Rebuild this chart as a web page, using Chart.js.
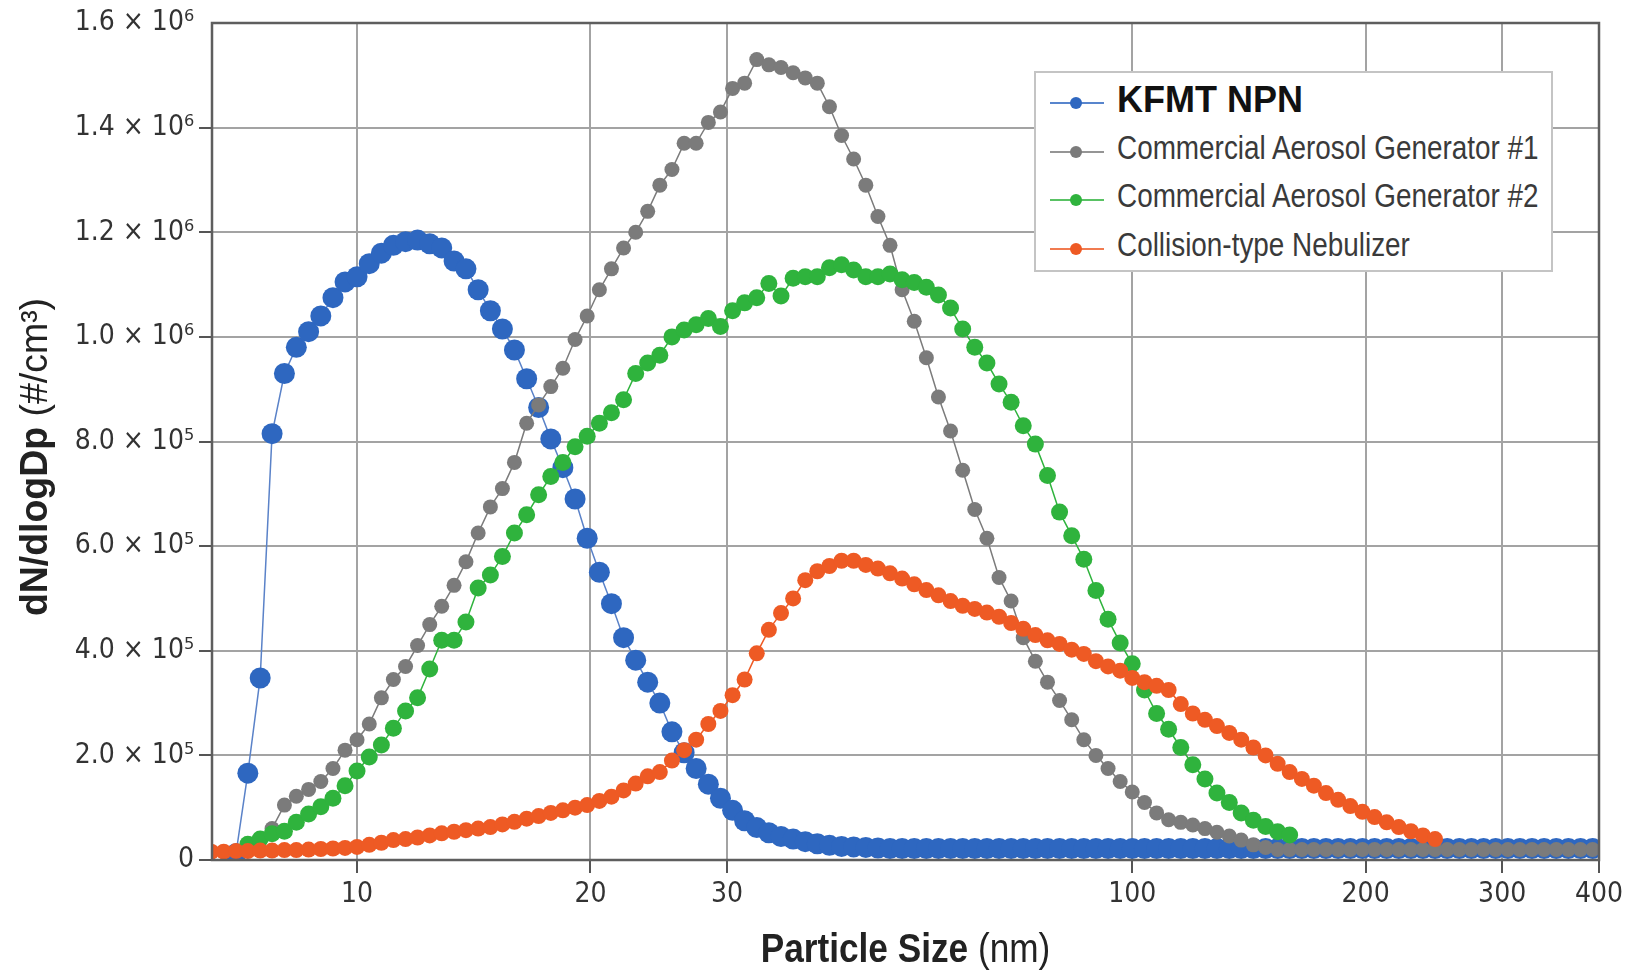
<!DOCTYPE html>
<html>
<head>
<meta charset="utf-8">
<script src="https://cdn.jsdelivr.net/npm/chart.js@4.4.1/dist/chart.umd.min.js"></script>
<style>
  body { margin: 0; background: #fff; }
  #wrap { position: relative; width: 1638px; height: 973px; }
  #legend {
    position: absolute; left: 1034px; top: 71px; width: 515px; height: 197px;
    border: 2px solid #c4c4c4; background: #fff;
  }
  .row { position: absolute; left: 0; height: 48px; width: 100%; }
  .mark-line { position: absolute; left: 14px; width: 54px; top: 23px; height: 2px; }
  .mark-dot { position: absolute; left: 34px; top: 18px; width: 12px; height: 12px; border-radius: 6px; }
  .lbl { position: absolute; left: 81px; top: 0; line-height: 48px; white-space: nowrap; transform-origin: left center; }
</style>
</head>
<body>
<div id="wrap">
  <canvas id="chart" width="1638" height="973"></canvas>
  <div id="legend"></div>
</div>
<script>
// particle size bins (nm), 64 channels per decade
var sizes = [
    6.49, 6.73, 6.98, 7.23, 7.50, 7.77, 8.06, 8.35, 8.66, 8.98, 9.31, 9.65,
    10.0, 10.37, 10.75, 11.14, 11.55, 11.97, 12.41, 12.86, 13.34, 13.82,
    14.33, 14.86, 15.40, 15.96, 16.55, 17.15, 17.78, 18.43, 19.11, 19.81,
    20.54, 21.29, 22.07, 22.88, 23.71, 24.58, 25.48, 26.42, 27.38, 28.39,
    29.43, 30.51, 31.62, 32.78, 33.98, 35.23, 36.52, 37.86, 39.24, 40.68,
    42.17, 43.71, 45.32, 46.98, 48.70, 50.48, 52.33, 54.25, 56.23, 58.29,
    60.43, 62.64, 64.94, 67.32, 69.78, 72.34, 74.99, 77.74, 80.58, 83.54,
    86.60, 89.77, 93.06, 96.47, 100.0, 103.7, 107.5, 111.4, 115.5, 119.7,
    124.1, 128.6, 133.4, 138.2, 143.3, 148.6, 154.0, 159.6, 165.5, 171.5,
    177.8, 184.3, 191.1, 198.1, 205.4, 212.9, 220.7, 228.8, 237.1, 245.8,
    254.8, 264.2, 273.8, 283.9, 294.3, 305.1, 316.2, 327.8, 339.8, 352.3,
    365.2, 378.6, 392.4
];

// dN/dlogDp in units of 10^5 #/cm3
var kfmt = [
    null, null, 0.12, 1.66, 3.48, 8.15, 9.3, 9.8, 10.1, 10.4, 10.75, 11.05,
    11.15, 11.4, 11.6, 11.75, 11.82, 11.85, 11.78, 11.7, 11.45, 11.3,
    10.9, 10.5, 10.15, 9.75, 9.2, 8.65, 8.05, 7.5, 6.9, 6.15,
    5.5, 4.9, 4.25, 3.82, 3.4, 3.0, 2.45, 2.05, 1.75, 1.45,
    1.18, 0.95, 0.75, 0.62, 0.52, 0.45, 0.4, 0.35, 0.31, 0.28,
    0.26, 0.25, 0.24, 0.23, 0.22, 0.22, 0.22, 0.22, 0.22, 0.22,
    0.22, 0.22, 0.22, 0.22, 0.22, 0.22, 0.22, 0.22, 0.22, 0.22,
    0.22, 0.22, 0.22, 0.22, 0.22, 0.22, 0.22, 0.22, 0.22, 0.22,
    0.22, 0.22, 0.22, 0.22, 0.22, 0.22, 0.22, 0.22, 0.22, 0.22,
    0.22, 0.22, 0.22, 0.22, 0.22, 0.22, 0.22, 0.22, 0.22, 0.22,
    0.22, 0.22, 0.22, 0.22, 0.22, 0.22, 0.22, 0.22, 0.22, 0.22,
    0.22, 0.22, 0.22
];

var gen1 = [
    null, null, null, 0.2, 0.4, 0.6, 1.05, 1.22, 1.35, 1.5, 1.75, 2.1,
    2.3, 2.6, 3.1, 3.45, 3.7, 4.1, 4.5, 4.85, 5.25, 5.7,
    6.25, 6.75, 7.1, 7.6, 8.35, 8.7, 9.05, 9.4, 9.95, 10.4,
    10.9, 11.3, 11.7, 12.0, 12.4, 12.9, 13.2, 13.7, 13.7, 14.1,
    14.3, 14.75, 14.85, 15.3, 15.2, 15.15, 15.05, 14.95, 14.85, 14.4,
    13.85, 13.4, 12.9, 12.3, 11.75, 10.9, 10.3, 9.6, 8.85, 8.2,
    7.45, 6.7, 6.15, 5.4, 4.95, 4.25, 3.8, 3.4, 3.05, 2.68,
    2.3, 2.0, 1.75, 1.5, 1.3, 1.1, 0.9, 0.77, 0.72, 0.67,
    0.6, 0.53, 0.46, 0.38, 0.29, 0.24, 0.2, 0.2, 0.2, 0.2,
    0.2, 0.2, 0.2, 0.2, 0.2, 0.2, 0.2, 0.2, 0.2, 0.2,
    0.2, 0.2, 0.2, 0.2, 0.2, 0.2, 0.2, 0.2, 0.2, 0.2,
    0.2, 0.2, 0.2
];

var gen2 = [
    null, null, null, 0.3, 0.4, 0.5, 0.55, 0.72, 0.88, 1.02, 1.18, 1.42,
    1.7, 1.97, 2.2, 2.52, 2.85, 3.1, 3.65, 4.2, 4.2, 4.55,
    5.2, 5.45, 5.8, 6.25, 6.6, 6.98, 7.33, 7.6, 7.9, 8.1,
    8.35, 8.55, 8.8, 9.3, 9.5, 9.65, 10.0, 10.13, 10.23, 10.35,
    10.2, 10.5, 10.65, 10.75, 11.02, 10.78, 11.12, 11.15, 11.15, 11.32,
    11.38, 11.28, 11.15, 11.15, 11.2, 11.09, 11.04, 10.95, 10.8, 10.55,
    10.15, 9.8, 9.5, 9.1, 8.75, 8.3, 7.95, 7.35, 6.65, 6.2,
    5.75, 5.15, 4.6, 4.15, 3.75, 3.25, 2.8, 2.5, 2.15, 1.82,
    1.55, 1.28, 1.1, 0.9, 0.76, 0.64, 0.54, 0.48, null, null,
    null, null, null, null, null, null, null, null, null, null,
    null, null, null, null, null, null, null, null, null, null,
    null, null, null
];

var nebulizer = [
    0.16, 0.16, 0.17, 0.17, 0.18, 0.18, 0.19, 0.19, 0.2, 0.21, 0.22, 0.23,
    0.25, 0.29, 0.33, 0.38, 0.4, 0.43, 0.47, 0.51, 0.54, 0.57,
    0.6, 0.63, 0.68, 0.73, 0.79, 0.84, 0.9, 0.95, 1.0, 1.05,
    1.13, 1.21, 1.33, 1.46, 1.6, 1.68, 1.9, 2.1, 2.3, 2.6,
    2.85, 3.15, 3.45, 3.95, 4.4, 4.72, 5.0, 5.35, 5.52, 5.62,
    5.72, 5.72, 5.64, 5.57, 5.48, 5.38, 5.27, 5.16, 5.06, 4.95,
    4.86, 4.8, 4.73, 4.65, 4.53, 4.42, 4.3, 4.2, 4.13, 4.02,
    3.94, 3.8, 3.7, 3.62, 3.48, 3.4, 3.33, 3.25, 2.98, 2.8,
    2.68, 2.56, 2.43, 2.3, 2.15, 2.0, 1.84, 1.68, 1.55, 1.42,
    1.28, 1.15, 1.03, 0.92, 0.82, 0.72, 0.63, 0.55, 0.47, 0.4,
    null, null, null, null, null, null, null, null, null, null,
    null, null, null
];

var seriesNames = ['KFMT NPN', 'Commercial Aerosol Generator #1', 'Commercial Aerosol Generator #2', 'Collision-type Nebulizer'];
var seriesColors = ['#2e67c0', '#7b7b7b', '#2fb33d', '#ee5a24'];
var xTicks = [10, 20, 30, 100, 200, 300, 400];
var yTickLabels = ['0', '2.0 × 10⁵', '4.0 × 10⁵', '6.0 × 10⁵', '8.0 × 10⁵', '1.0 × 10⁶', '1.2 × 10⁶', '1.4 × 10⁶', '1.6 × 10⁶'];

var CONDENSED = '"DejaVu Sans Condensed", "Liberation Sans", sans-serif';
var SANS = '"Liberation Sans", Arial, sans-serif';

// plot frame drawn on top of the points
var framePlugin = {
    id: 'frame',
    afterDatasetsDraw: function(chart) {
        var a = chart.chartArea, ctx = chart.ctx;
        ctx.save();
        ctx.strokeStyle = '#5e5e5e';
        ctx.lineWidth = 2.5;
        ctx.strokeRect(a.left, a.top, a.right - a.left, a.bottom - a.top);
        ctx.restore();
    }
};

// bold + regular text in one line, squeezed horizontally by sx
function drawMixed(ctx, parts, cx, y, sx) {
    var total = 0;
    parts.forEach(function(p) {
        ctx.font = p.font;
        p.w = ctx.measureText(p.text).width;
        total += p.w;
    });
    ctx.save();
    ctx.translate(cx - total * sx / 2, y);
    ctx.scale(sx, 1);
    var x = 0;
    parts.forEach(function(p) {
        ctx.font = p.font;
        ctx.fillText(p.text, x, 0);
        x += p.w;
    });
    ctx.restore();
}

var titlePlugin = {
    id: 'titles',
    afterDraw: function(chart) {
        var a = chart.chartArea, ctx = chart.ctx;
        ctx.save();
        ctx.fillStyle = '#222';
        ctx.textAlign = 'left';
        ctx.textBaseline = 'alphabetic';
        drawMixed(ctx, [
            {text: 'Particle Size ', font: 'bold 40px ' + SANS},
            {text: '(nm)', font: '40px ' + SANS}
        ], (a.left + a.right) / 2, 962, 0.88);

        ctx.translate(47, 457);
        ctx.rotate(-Math.PI / 2);
        drawMixed(ctx, [
            {text: 'dN/dlogDp ', font: 'bold 39px ' + SANS},
            {text: '(#/cm³)', font: '39px ' + SANS}
        ], 0, 0, 0.96);
        ctx.restore();
    }
};

var datasets = [kfmt, gen1, gen2, nebulizer].map(function(vals, i) {
    var radius = [10.5, 7.5, 8.5, 8];
    return {
        label: seriesNames[i],
        data: vals,
        borderColor: i === 0 ? '#5a82c8' : seriesColors[i],
        borderWidth: 1.5,
        backgroundColor: seriesColors[i],
        pointBackgroundColor: seriesColors[i],
        pointBorderWidth: 0,
        pointRadius: radius[i],
        order: 4 - i,
        clip: 0
    };
});

var ctx = document.getElementById('chart');
var chart = new Chart(ctx, {
    type: 'line',
    data: {
        labels: sizes,
        datasets: datasets
    },
    options: {
        responsive: false,
        animation: false,
        layout: {padding: {top: 23, right: 39, left: 0, bottom: 0}},
        plugins: {
            legend: {display: false},
            tooltip: {enabled: false}
        },
        scales: {
            x: {
                type: 'logarithmic',
                min: 6.5,
                max: 400,
                afterBuildTicks: function(scale) {
                    scale.ticks = xTicks.map(function(v) { return {value: v}; });
                },
                afterFit: function(scale) { scale.height = 113; },
                border: {display: false},
                grid: {color: '#a3a3a3', lineWidth: 2, tickLength: 13, tickColor: '#555', tickWidth: 2},
                ticks: {
                    autoSkip: false,
                    maxRotation: 0,
                    padding: 5,
                    color: '#333',
                    font: {family: CONDENSED, size: 28},
                    callback: function(v) { return String(v); }
                }
            },
            y: {
                min: 0,
                max: 16,
                afterFit: function(scale) { scale.width = 212; },
                border: {display: false},
                grid: {
                    color: '#a3a3a3', lineWidth: 2, tickLength: 13, tickWidth: 2,
                    tickColor: function(c) { return c.tick && c.tick.value === 16 ? 'rgba(0,0,0,0)' : '#555'; }
                },
                ticks: {
                    stepSize: 2,
                    padding: 5,
                    color: '#333',
                    font: {family: CONDENSED, size: 28},
                    callback: function(v, i) { return yTickLabels[i]; }
                }
            }
        }
    },
    plugins: [framePlugin, titlePlugin]
});

// legend box inside the plot
var legend = document.getElementById('legend');
seriesNames.forEach(function(name, i) {
    var row = document.createElement('div');
    row.className = 'row';
    row.style.top = (6 + i * 48.5) + 'px';
    var line = document.createElement('div');
    line.className = 'mark-line';
    line.style.background = seriesColors[i];
    line.style.opacity = 0.8;
    var dot = document.createElement('div');
    dot.className = 'mark-dot';
    dot.style.background = seriesColors[i];
    var lbl = document.createElement('div');
    lbl.className = 'lbl';
    lbl.textContent = name;
    if (i === 0) {
        lbl.style.font = 'bold 36px ' + SANS;
        lbl.style.color = '#111';
    } else {
        lbl.style.font = '34px ' + SANS;
        lbl.style.color = '#3a3a3a';
        lbl.style.transform = 'scaleX(0.82)';
    }
    row.appendChild(line);
    row.appendChild(dot);
    row.appendChild(lbl);
    legend.appendChild(row);
});
</script>
</body>
</html>
